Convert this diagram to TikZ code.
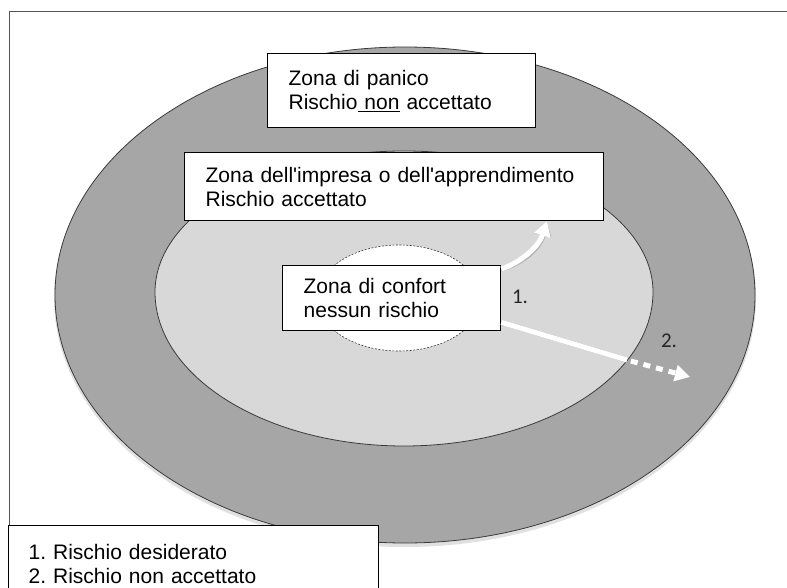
\documentclass[tikz,border=0pt]{standalone}
\usepackage{fontspec}
\setmainfont{Liberation Sans}[Ligatures=TeXOff]
\newfontfamily\numfont{Carlito}
\usetikzlibrary{arrows.meta,calc}
\definecolor{darkzone}{HTML}{A6A6A6}
\definecolor{lightzone}{HTML}{D8D8D8}
\definecolor{rimline}{HTML}{3A3A3A}
\definecolor{framegray}{HTML}{555555}
\frenchspacing
\begin{document}
\begin{tikzpicture}[x=1pt,y=-1pt,
  zonebox/.style={draw=black,line width=1.3pt,fill=white,anchor=north west,
    inner xsep=21pt,inner ysep=0pt,align=left,font=\fontsize{21}{24}\selectfont},
  whitestroke/.style={draw=white,line width=5pt},
  shadowstroke/.style={draw=black!30,line width=5pt},
  bigtip/.style={-{Triangle[length=15pt,width=16pt]}},
  numlabel/.style={font=\numfont\fontsize{21}{21}\selectfont,inner sep=0pt,text=black!85}
]
\clip (0,0) rectangle (787,588);
\fill[white] (0,0) rectangle (787,588);
\draw[framegray,line width=1pt] (9,12) rectangle (800,600);

% outer zone (panic)
\fill[black!12] (405,298) ellipse [x radius=351, y radius=249];
\draw[rimline,line width=0.8pt,fill=darkzone] (405,295) ellipse [x radius=350, y radius=248];

% middle zone (learning)
\draw[rimline,line width=0.8pt,fill=lightzone]
  (155,292) arc [start angle=180, end angle=360, x radius=249, y radius=141]
  arc [start angle=0, end angle=180, x radius=249, y radius=154] -- cycle;

% comfort zone
\draw[rimline,line width=0.6pt,dash pattern=on 2pt off 1.5pt,fill=white]
  (399,298) ellipse [x radius=82, y radius=53];

% boxes
\node[zonebox,text width=226pt,minimum height=74pt] (panic) at (267,53)
  {Zona di panico\\Rischio\underline{\ non} accettato};
\node[zonebox,text width=377pt,minimum height=68pt] (learn) at (184,152)
  {Zona dell'impresa o dell'apprendimento\\Rischio accettato};
\node[zonebox,text width=176pt,minimum height=65pt] (comfort) at (282,265)
  {Zona di confort\\nessun rischio};

% arrows
\coordinate (a1s) at ($(comfort.north east)+(0,4)$);
\coordinate (a1e) at (547,221);
\coordinate (a2s) at ($(comfort.south east)+(0,-9)$);
\coordinate (a2m) at (627,360);
\coordinate (a2e) at (690,377);

\draw[shadowstroke,bigtip,shift={(1,1.5)}] (a1s) .. controls (522,262) and (539,246) .. (a1e);
\draw[whitestroke,bigtip] (a1s) .. controls (522,262) and (539,246) .. (a1e);

\draw[shadowstroke,shift={(0.5,1.5)}] (a2s) -- (a2m);
\draw[whitestroke] (a2s) -- (a2m);
\draw[whitestroke,bigtip,dash pattern=on 7pt off 6pt,dash phase=-4pt] (a2m) -- (a2e);

\node[numlabel] (n1) at (520,297) {1.};
\node[numlabel] (n2) at (669,341) {2.};

% legend
\node[zonebox,inner xsep=20pt,text width=330pt,minimum height=76pt] (legend) at (8,525)
  {1. Rischio desiderato\\2. Rischio non accettato};
\end{tikzpicture}
\end{document}
